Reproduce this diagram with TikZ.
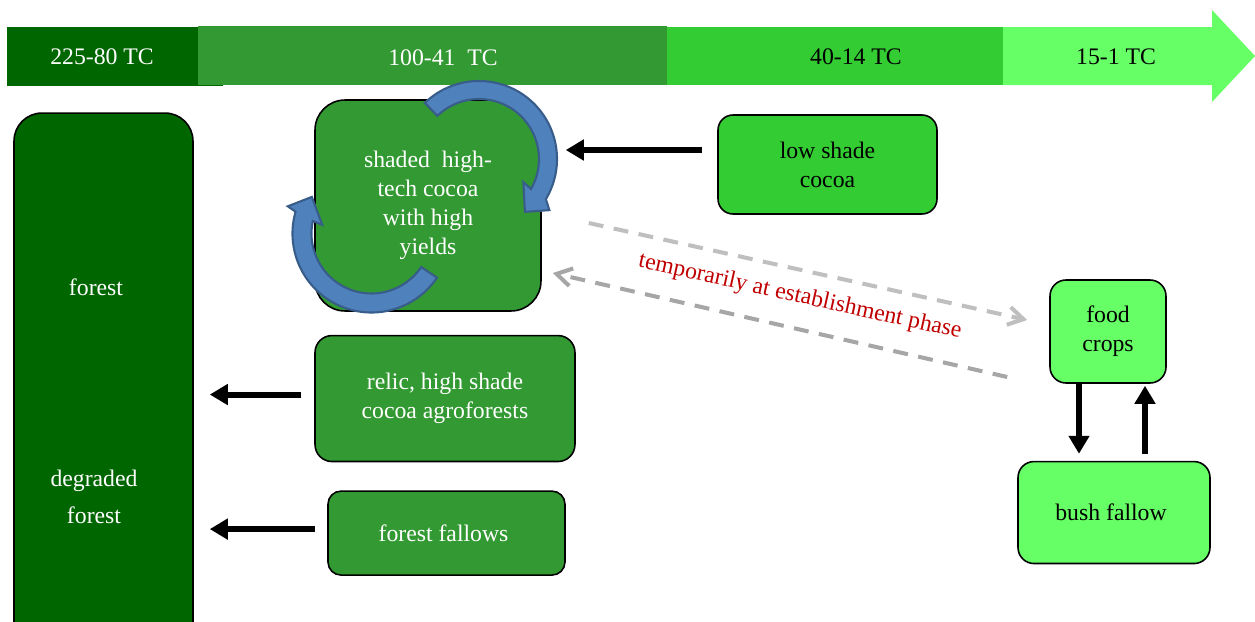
\documentclass[tikz,border=0pt]{standalone}
\usepackage{fontspec}
\setmainfont{Liberation Serif}
\usetikzlibrary{positioning,arrows.meta}

\definecolor{darkforest}{RGB}{0,102,0}
\definecolor{midgreen}{RGB}{51,153,51}
\definecolor{brightgreen}{RGB}{51,204,51}
\definecolor{palegreen}{RGB}{102,255,102}
\definecolor{spinblue}{RGB}{79,129,189}
\definecolor{spinedge}{RGB}{56,93,138}
\definecolor{phasered}{RGB}{192,0,0}
\definecolor{lightdash}{RGB}{191,191,191}
\definecolor{darkdash}{RGB}{166,166,166}

\begin{document}
\begin{tikzpicture}[x=0.02cm, y=0.02cm,
	font=\fontsize{13.5}{16.5}\selectfont,
	block/.style = { rectangle, draw=black, line width=0.9pt, inner sep=0pt, align=center },
	dark/.style = { block, fill=darkforest, text=white },
	mid/.style = { block, fill=midgreen, text=white },
	bright/.style = { block, fill=brightgreen },
	pale/.style = { block, fill=palegreen },
	push/.style = { line width=0.12cm, -{Triangle[width=0.4cm, length=0.36cm]} },
	spin/.style = { fill=spinblue, draw=spinedge, line width=1.2pt },
	trial/.style = { line width=2.3pt, dash pattern=on 8.5pt off 6pt,
	-{Straight Barb[length=0.3cm, width=0.36cm]} } ]

  \useasboundingbox (0,0) rectangle (1255,-622);

  % time band
  \fill [darkforest] (7,-27) rectangle (223,-86);
  \fill [midgreen] (198,-26) rectangle (667,-84.5);
  \fill [brightgreen] (667,-27) rectangle (1003,-85);
  \fill [palegreen] (1003,-27) -- (1212,-27) -- (1212,-10) -- (1255,-56)
	-- (1212,-102) -- (1212,-85) -- (1003,-85) -- cycle;
  \node [name=tcone, text=white] at (102,-57) { 225-80 TC };
  \node [name=tctwo, text=white] at (443,-58) { 100-41\ \ TC };
  \node [name=tcthree] at (856,-57) { 40-14 TC };
  \node [name=tcfour] at (1116,-57) { 15-1 TC };

  \node [name=forest, dark, rounded corners=0.56cm,
	minimum width=3.58cm, minimum height=10.94cm] at (103.5,-386.5) {};
  \node [name=forestlbl, text=white] at (96,-287) { forest };
  \node [name=degraded, text=white, align=center,
	font=\fontsize{13.5}{21}\selectfont] at (94,-497) { degraded\\forest };

  \node [name=hitech, mid, rounded corners=0.6cm,
	minimum width=4.52cm, minimum height=4.22cm] at (428,-205.5)
	{ shaded\ \ high-\\tech cocoa\\with high\\yields };
  \node [name=lowshade, bright, rounded corners=0.3cm,
	minimum width=4.38cm, minimum height=1.98cm] at (827.5,-164.5)
	{ low shade\\cocoa };
  \node [name=relic, mid, rounded corners=0.34cm,
	minimum width=5.2cm, minimum height=2.52cm,
	below=0.46cm of hitech, xshift=0.34cm]
	{ relic, high shade\\cocoa agroforests };
  \node [name=fallows, mid, rounded corners=0.26cm,
	minimum width=4.74cm, minimum height=1.68cm,
	below=0.56cm of relic, xshift=0.03cm] { forest fallows };
  \node [name=food, pale, rounded corners=0.32cm,
	minimum width=2.32cm, minimum height=2.06cm] at (1108,-331.5)
	{ food\\crops };
  \node [name=bush, pale, rounded corners=0.32cm,
	minimum width=3.84cm, minimum height=2.04cm,
	below=1.54cm of food, xshift=0.12cm] { bush fallow };

  \coordinate (spinA) at (479,-159);
  \coordinate (spinB) at (371.5,-233.5);
  \draw [spin] ([shift={(134:78)}]spinA) arc [start angle=134, end angle=-31, radius=78]
	-- ([shift={(-36:87)}]spinA) -- ([shift={(-49:70)}]spinA)
	-- ([shift={(-27.5:50)}]spinA) -- ([shift={(-30:60)}]spinA)
	arc [start angle=-30, end angle=134, radius=60] -- cycle;
  \draw [spin] ([shift={(-34:79)}]spinB) arc [start angle=-34, end angle=-196, radius=79]
	-- ([shift={(-198:88)}]spinB) -- ([shift={(-211.5:70)}]spinB)
	-- ([shift={(-190:50)}]spinB) -- ([shift={(-192:60)}]spinB)
	arc [start angle=-192, end angle=-34, radius=60] -- cycle;

  \coordinate (lowtail) at ([shift={(-15,14.5)}]lowshade.west);
  \draw [push, shorten >=0.48cm] (lowtail) -- (lowtail -| hitech.east);
  \coordinate (relictail) at ([shift={(-13,4)}]relic.west);
  \draw [push, shorten >=0.32cm] (relictail) -- (relictail -| forest.east);
  \coordinate (fallowtail) at ([shift={(-12,4)}]fallows.west);
  \draw [push, shorten >=0.32cm] (fallowtail) -- (fallowtail -| forest.east);
  \coordinate (fooddown) at ([xshift=-0.58cm]food.south);
  \draw [push, shorten >=0.14cm] (fooddown) -- (fooddown |- bush.north);
  \path (food.south |- bush.north) coordinate (crossfb);
  \coordinate (bushup) at ([shift={(37,7)}]crossfb);
  \draw [push, shorten >=0.04cm] (bushup) -- (bushup |- food.south);

  \coordinate (lightstart) at ([shift={(47,-17.5)}]hitech.east);
  \coordinate (lightend) at ([shift={(-22,11.5)}]food.west);
  \draw [trial, lightdash] (lightstart) -- (lightend);
  \coordinate (darkstart) at ([shift={(-42,-45.5)}]food.west);
  \coordinate (darkend) at ([shift={(11,-67.5)}]hitech.east);
  \draw [trial, darkdash] (darkstart) -- (darkend);
  \node [name=phase, text=phasered, rotate=-12.5] at (800,-297)
	{ temporarily at establishment phase };
\end{tikzpicture}
\end{document}
